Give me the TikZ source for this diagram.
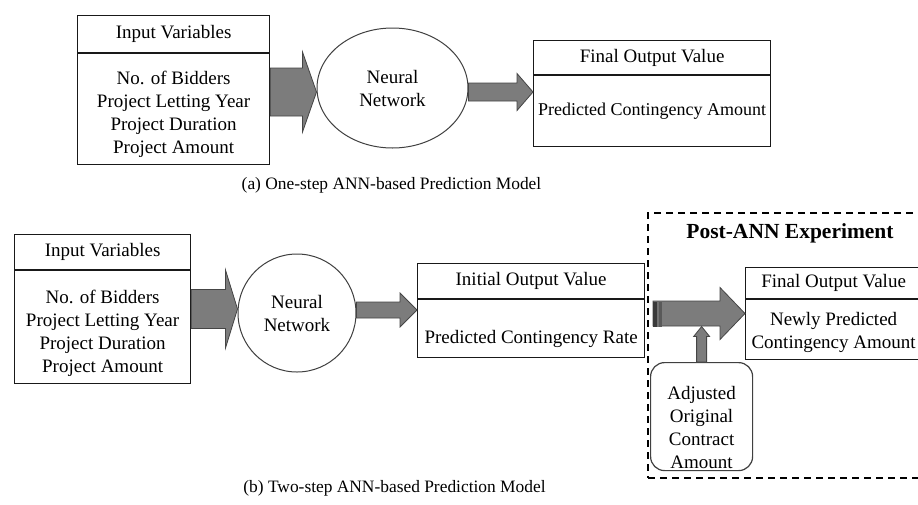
\documentclass[tikz,border=0pt]{standalone}
\usepackage{fontspec}
\setmainfont{Liberation Serif}
\usetikzlibrary{calc,shapes.geometric}
\newcommand\boxfont{\fontsize{19}{23}\selectfont}
\newcommand\capfont{\fontsize{17.4}{20}\selectfont}
\definecolor{arrowgray}{HTML}{7C7C7C}
\definecolor{arrowedge}{HTML}{454545}
\definecolor{stripedark}{HTML}{3A3A3A}
\tikzset{
  hbox/.style={draw=black!90, line width=1.2pt, inner sep=0pt, align=center, font=\boxfont},
  txt/.style={inner sep=0pt, align=center, font=\boxfont},
  nnshape/.style={draw=black!75, line width=1pt, inner sep=0pt, align=center, font=\boxfont},
  rbox/.style={draw=black!75, line width=1.2pt, rounded corners=14pt, inner sep=0pt},
  capt/.style={inner sep=0pt, font=\capfont},
  blockarrow/.style={fill=arrowgray, draw=arrowedge, line width=0.8pt, line join=miter},
  postbox/.style={draw=black, line width=2pt, dash pattern=on 7pt off 5pt, inner sep=0pt},
}
% #1 from, #2 to, #3 y (picture units), #4 shaft half, #5 head half, #6 head length
\newcommand\harrow[6]{%
  \filldraw[blockarrow] let \p1=(#1), \p2=(#2), \p3=(0,#3) in
    (\x1,\y3+#4) -- (\x2-#6,\y3+#4) -- (\x2-#6,\y3+#5) -- (\x2,\y3)
    -- (\x2-#6,\y3-#5) -- (\x2-#6,\y3-#4) -- (\x1,\y3-#4) -- cycle;}
\begin{document}
\begin{tikzpicture}[x=1pt,y=-1pt]
\useasboundingbox (0,0) rectangle (918,504);
\clip (0,0) rectangle (918,504);
\fill[white] (0,0) rectangle (918,504);

% ---------- (a) one-step ----------
\node[hbox, minimum width=192, minimum height=37, anchor=north west] (in1h) at (77,15) {Input Variables};
\node[hbox, minimum width=192, minimum height=111, anchor=north] (in1b) at (in1h.south) {};
\node[txt] (in1t) at ([yshift=-5pt]in1b.center) {No. of Bidders\\Project Letting Year\\Project Duration\\Project Amount};

\node[nnshape, ellipse, minimum width=151, minimum height=120] (nn1) at (392.5,88) {Neural\\Network};

\node[hbox, minimum width=237, minimum height=34, anchor=north west] (out1h) at (533,40) {Final Output Value};
\node[hbox, minimum width=237, minimum height=71, anchor=north, font=\fontsize{18}{22}\selectfont] (out1b) at (out1h.south) {Predicted Contingency Amount};

\harrow{in1b.east}{nn1.west}{92}{24pt}{40pt}{14pt}
\harrow{nn1.east}{out1b.west}{92}{9pt}{18.5pt}{16pt}

\node[capt] (capa) at (391.5,185) {(a) One-step ANN-based Prediction Model};

% ---------- (b) two-step ----------
\node[hbox, minimum width=176, minimum height=35, anchor=north west] (in2h) at (14,234) {Input Variables};
\node[hbox, minimum width=176, minimum height=113, anchor=north] (in2b) at (in2h.south) {};
\node[txt] (in2t) at ([yshift=-6pt]in2b.center) {No. of Bidders\\Project Letting Year\\Project Duration\\Project Amount};

\node[nnshape, circle, minimum size=118] (nn2) at (297,313) {Neural\\Network};

\node[hbox, minimum width=227, minimum height=35, anchor=north west] (inih) at (417,263) {Initial Output Value};
\node[hbox, minimum width=227, minimum height=58, anchor=north] (inib) at (inih.south) {};
\node[txt] (init) at ([yshift=-10pt]inib.center) {Predicted Contingency Rate};

\harrow{in2b.east}{nn2.west}{309}{19.5pt}{39pt}{12pt}
\harrow{nn2.east}{inib.west}{310}{8pt}{17pt}{17pt}

% post-ANN experiment
\node[postbox, minimum width=300, minimum height=265, anchor=north west] (post) at (647,212) {};
\node[inner sep=0pt, font=\fontsize{21.5}{24}\selectfont\bfseries] (posttitle) at (790,233) {Post-ANN Experiment};

\node[hbox, minimum width=176, minimum height=31, anchor=north west] (finh) at (745,267) {Final Output Value};
\node[hbox, minimum width=176, minimum height=60, anchor=north] (finb) at (finh.south) {};
\node[txt] (fint) at ([yshift=-3pt]finb.center) {Newly Predicted\\Contingency Amount};

\coordinate (b3s) at (653,314);
\harrow{b3s}{finb.west}{313.5}{12.5pt}{26pt}{25pt}
\fill[stripedark] (653,301.5) rectangle (657,326.5);
\fill[black!55] (657,301.5) rectangle (659,326.5);
\fill[black!65] (659,301.5) rectangle (662,326.5);

\node[rbox, minimum width=102, minimum height=108, anchor=north west] (adj) at (650,362) {};
\node[txt] (adjt) at ([yshift=-11pt]adj.center) {Adjusted\\Original\\Contract\\Amount};

\coordinate (b3bot) at (695,326.5);
\filldraw[blockarrow] let \p1=(adj.north), \p2=(b3bot) in
  (\x1-5pt,\y1) -- (\x1-5pt,\y2-10pt) -- (\x1-8pt,\y2-10pt) -- (\x1,\y2)
  -- (\x1+8pt,\y2-10pt) -- (\x1+5pt,\y2-10pt) -- (\x1+5pt,\y1) -- cycle;

\node[capt] (capb) at (394.5,488) {(b) Two-step ANN-based Prediction Model};
\end{tikzpicture}
\end{document}
